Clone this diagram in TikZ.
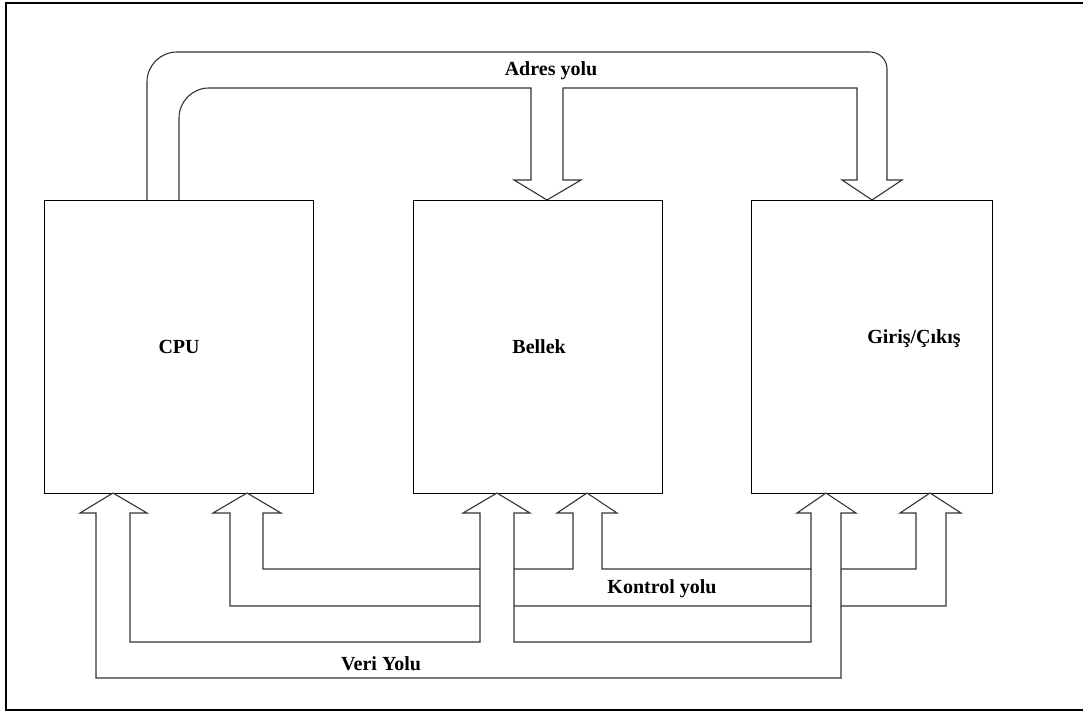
\documentclass[tikz,border=0pt]{standalone}
\usepackage{fontspec}
\setmainfont{Liberation Serif}
\begin{document}
\begin{tikzpicture}[x=1pt,y=-1pt,
  unitbox/.style={draw=black,line width=1.2pt,minimum width=#1,minimum height=293pt,inner sep=0pt,anchor=north west},
  busline/.style={draw=black!80,line width=1.1pt,line join=miter},
  buslabel/.style={font=\fontsize{20}{24}\selectfont\bfseries,inner sep=0pt},
  frameline/.style={draw=black,line width=2.4pt}]
\useasboundingbox (0,0) rectangle (1083,711);

% outer frame (top, left, bottom)
\draw[frameline] (1083,3.2) -- (6,3.2) -- (6,709.8) -- (1083,709.8);

% units
\node[unitbox=269pt] (cpu) at (44,200) {};
\node[unitbox=249pt] (mem) at (413,200) {};
\node[unitbox=241pt] (io)  at (751,200) {};
\node[buslabel] (cpulbl) at (cpu.center) {CPU};
\node[buslabel] (memlbl) at ([xshift=1pt]mem.center) {Bellek};
\node[buslabel] (iolbl)  at (914,339) {Giriş/Çıkış};

% address bus: CPU -> memory and CPU -> I/O
\draw[busline] (147,200) [rounded corners=30pt] -- (147,52) [rounded corners=17pt] -- (887,52)
   [sharp corners] -- (887,180) -- (902,180) -- (872,200) -- (842,180)
   -- (857,180) -- (857,88) -- (563,88) -- (563,180) -- (581,180) -- (547,200) -- (514,180)
   -- (531,180) -- (531,88) [rounded corners=30pt] -- (179,88) [sharp corners] -- (179,200);
\node[buslabel] (adrlbl) at (551,71) {Adres yolu};

% control bus
\draw[busline,fill=white]
  (247,493) -- (281,513) -- (263,513) -- (263,569) -- (573,569) -- (573,513) -- (557,513)
  -- (587,493) -- (617,513) -- (602,513) -- (602,569) -- (916,569) -- (916,513) -- (900,513)
  -- (930,493) -- (961,513) -- (946,513) -- (946,606) -- (230,606) -- (230,513) -- (213,513)
  -- cycle;
\node[buslabel] (ctllbl) at (662,589) {Kontrol yolu};

% data bus, drawn over the control bus where they cross
\draw[busline,fill=white]
  (113,493) -- (147,513) -- (130,513) -- (130,642) -- (480,642) -- (480,513) -- (463,513)
  -- (497,493) -- (530,513) -- (514,513) -- (514,642) -- (811,642) -- (811,513) -- (797,513)
  -- (826,493) -- (856,513) -- (841,513) -- (841,678) -- (96,678) -- (96,513) -- (80,513)
  -- cycle;
\node[buslabel] (datlbl) at (381,664) {Veri Yolu};
\end{tikzpicture}
\end{document}
